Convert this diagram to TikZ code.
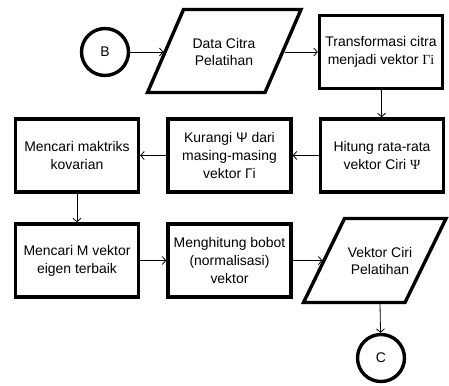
\documentclass[tikz,border=0pt]{standalone}
\usepackage{fontspec}
\setmainfont{Liberation Sans}
\newfontfamily\serifgr{Liberation Serif}
\usetikzlibrary{arrows.meta}
\begin{document}
\begin{tikzpicture}[x=1bp,y=-1bp,
  txt/.style={font=\fontsize{14}{18}\selectfont, align=center, inner sep=0pt},
  box/.style={txt, draw, line width=3.4bp, minimum width=123bp, minimum height=73bp},
  conn/.style={draw, line width=0.8bp, -{Straight Barb[length=3.5bp,width=8bp]}},
  shp/.style={draw, line width=3.4bp, line join=miter},
  circ/.style={txt, draw, circle, line width=3.4bp, minimum size=47bp}]
\useasboundingbox (0,0) rectangle (449,385);

% top row
\node[circ] (B) at (105,52) {B};
\draw[shp] (147.5,92.5) -- (265,92.5) -- (301,9.5) -- (183.5,9.5) -- cycle;
\node[txt] (D1) at (224,52) {Data Citra\\Pelatihan};
\coordinate (D1in) at (163.5,52);
\coordinate (D1out) at (284.5,52);
\node[box] (T) at (381,52) {Transformasi citra\\menjadi vektor {\serifgr Γi}};

% middle row
\node[box] (H) at (382,155.5) {Hitung rata-rata\\vektor Ciri {\serifgr Ψ}};
\node[box] (K) at (229.5,155.5) {Kurangi Ψ dari\\masing-masing\\vektor Γi};
\node[box] (M1) at (77,155.5) {Mencari maktriks\\kovarian};

% bottom row
\node[box] (M2) at (77,260.5) {Mencari M vektor\\eigen terbaik};
\node[box] (N) at (229.5,260.5) {Menghitung bobot\\(normalisasi)\\vektor};
\draw[shp] (303.5,302.5) -- (405,302.5) -- (446,218.5) -- (344.5,218.5) -- cycle;
\node[txt] (P2) at (380,261) {Vektor Ciri\\Pelatihan};
\coordinate (P2in) at (322.5,260.5);
\coordinate (P2out) at (380,304);
\node[circ] (C) at (381,358) {C};

% connectors
\draw[conn] (B) -- (D1in);
\draw[conn] (D1out) -- (T.west |- D1out);
\draw[conn] (T) -- (H);
\draw[conn] (H) -- (K);
\draw[conn] (K) -- (M1);
\draw[conn] (M1) -- (M2);
\draw[conn] (M2) -- (N);
\draw[conn] (N.east) -- (P2in);
\draw[conn] (P2out) -- (C);
\end{tikzpicture}
\end{document}
